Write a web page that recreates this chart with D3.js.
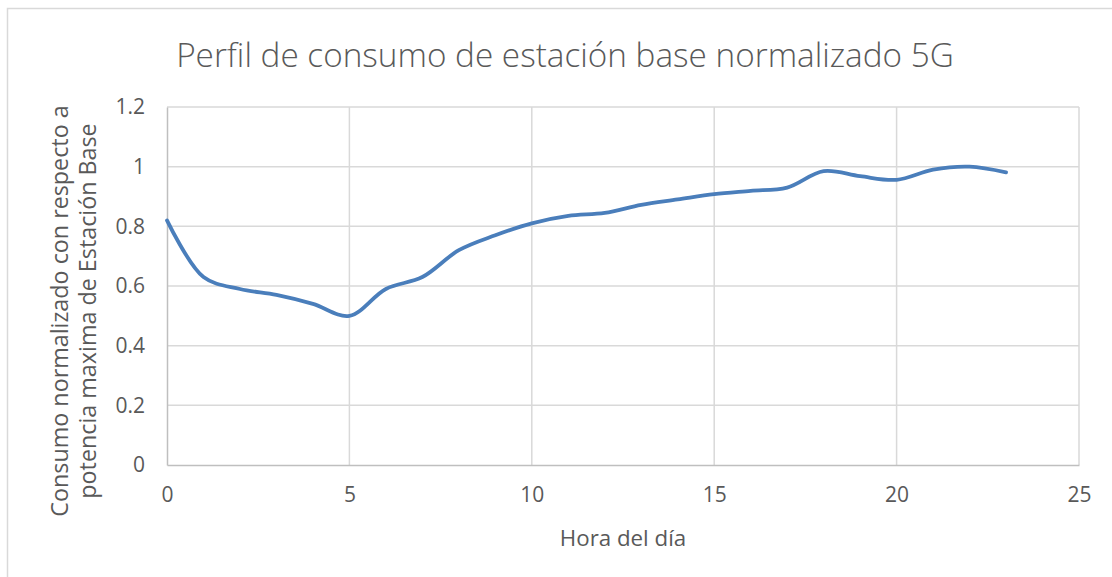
<!DOCTYPE html>
<html>
<head>
<meta charset="utf-8">
<script src="https://cdn.jsdelivr.net/npm/d3@7"></script>
<style>
  body { margin: 0; background: #fff; }
  text { font-family: "Open Sans", "Noto Sans", sans-serif; fill: #595959; }
</style>
</head>
<body>
<div id="chart"></div>
<script>
// hour of day vs normalised consumption
var hours = [0, 1, 2, 3, 4, 5, 6, 7, 8, 9, 10, 11, 12, 13, 14, 15, 16, 17, 18, 19, 20, 21, 22, 23];
var consumo = [0.82, 0.63, 0.59, 0.57, 0.54, 0.50, 0.59, 0.63, 0.72, 0.77, 0.81, 0.835, 0.845, 0.872, 0.89, 0.908, 0.919, 0.93, 0.985, 0.968, 0.956, 0.99, 1.0, 0.981];
var xTicks = [0, 5, 10, 15, 20, 25];
var yTicks = [0, 0.2, 0.4, 0.6, 0.8, 1, 1.2];

var width = 1112, height = 577;
var margin = {left: 167, right: 33, top: 107, bottom: 112};

var svg = d3.select("#chart").append("svg")
	.attr("width", width)
	.attr("height", height);

// outer chart border
svg.append("rect")
	.attr("x", 7.5).attr("y", 8.5)
	.attr("width", 1110).attr("height", 580)
	.attr("fill", "none")
	.attr("stroke", "#d9d9d9")
	.attr("stroke-width", 1.5);

var x = d3.scaleLinear().domain([0, 25]).range([margin.left, width - margin.right]);
var y = d3.scaleLinear().domain([0, 1.2]).range([height - margin.bottom, margin.top]);

// gridlines
svg.append("g").selectAll("line.h")
	.data(yTicks.slice(1))
	.enter().append("line")
	.attr("x1", x(0)).attr("x2", x(25))
	.attr("y1", function(d) { return y(d); })
	.attr("y2", function(d) { return y(d); })
	.attr("stroke", "#d9d9d9").attr("stroke-width", 1.5);

svg.append("g").selectAll("line.v")
	.data(xTicks.slice(1))
	.enter().append("line")
	.attr("y1", y(0)).attr("y2", y(1.2))
	.attr("x1", function(d) { return x(d); })
	.attr("x2", function(d) { return x(d); })
	.attr("stroke", "#d9d9d9").attr("stroke-width", 1.5);

// axes
var xAxis = svg.append("g")
	.attr("transform", "translate(0," + y(0) + ")")
	.call(d3.axisBottom(x).tickValues(xTicks).tickSize(0).tickPadding(22));
xAxis.select(".domain").attr("stroke", "#bfbfbf").attr("stroke-width", 1.5);

var yAxis = svg.append("g")
	.attr("transform", "translate(" + x(0) + ",0)")
	.call(d3.axisLeft(y).tickValues(yTicks).tickSize(0).tickPadding(22)
		.tickFormat(function(d) { return d3.format("")(d); }));
yAxis.select(".domain").attr("stroke", "#bfbfbf").attr("stroke-width", 1.5);

svg.selectAll(".tick text")
	.style("font-size", "21px")
	.style("font-family", "'Open Sans', sans-serif")
	.attr("fill", "#595959");

// the line
var line = d3.line()
	.x(function(d, i) { return x(hours[i]); })
	.y(function(d) { return y(d); })
	.curve(d3.curveCatmullRom.alpha(0.5));

svg.append("path")
	.datum(consumo)
	.attr("d", line)
	.attr("fill", "none")
	.attr("stroke", "#4a7ebb")
	.attr("stroke-width", 3.8)
	.attr("stroke-linecap", "round");

// titles
svg.append("text")
	.attr("x", 565).attr("y", 67)
	.attr("text-anchor", "middle")
	.style("font-size", "33.3px")
	.style("font-weight", 300)
	.text("Perfil de consumo de estación base normalizado 5G");

svg.append("text")
	.attr("x", 623).attr("y", 546)
	.attr("text-anchor", "middle")
	.style("font-size", "22.3px")
	.text("Hora del día");

var yt = svg.append("text")
	.attr("transform", "translate(68,311) rotate(-90)")
	.attr("text-anchor", "middle")
	.style("font-size", "23.3px");
yt.append("tspan").attr("x", 0).attr("dy", 0).text("Consumo normalizado con respecto a");
yt.append("tspan").attr("x", 0).attr("dy", 28).text("potencia maxima de Estación Base");
</script>
</body>
</html>
